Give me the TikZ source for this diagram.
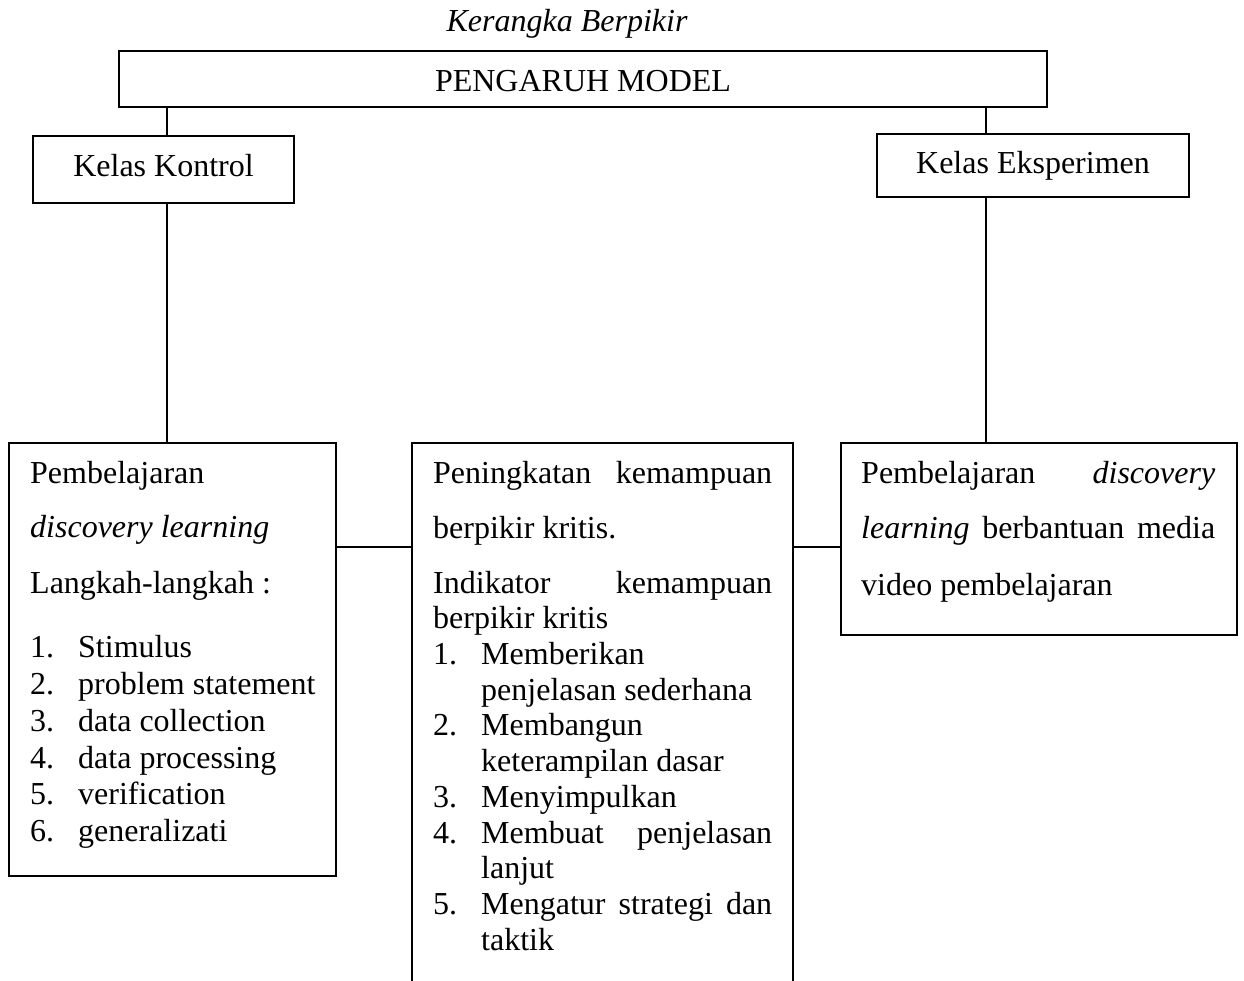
\documentclass[tikz,border=0pt]{standalone}
\usepackage{fontspec}
\setmainfont{Liberation Serif}
\begin{document}
\begin{tikzpicture}[x=1pt,y=-1pt,
  box/.style={draw=black, line width=1.4pt, rectangle, inner sep=0pt},
  conn/.style={draw=black, line width=1.4pt},
  txt/.style={anchor=base west, inner sep=0pt, font=\fontsize{32}{38}\selectfont},
  ctxt/.style={anchor=base, inner sep=0pt, font=\fontsize{32}{38}\selectfont}]
\useasboundingbox[fill=white] (0,0) rectangle (1244,981);

% boxes
\node[box, minimum width=928pt, minimum height=56pt] (pm) at (583,79) {};
\node[box, minimum width=261pt, minimum height=67pt] (kk) at (163.5,169.5) {};
\node[box, minimum width=312pt, minimum height=63pt] (ke) at (1033,165.5) {};
\node[box, minimum width=327pt, minimum height=433pt] (pl) at (172.5,659.5) {};
\node[box, minimum width=381pt, minimum height=577pt] (mid) at (602.5,731.5) {};
\node[box, minimum width=396pt, minimum height=192pt] (pr) at (1039,539) {};

% connector guides
\coordinate (lc) at (167,0);
\coordinate (rc) at (986,0);
\coordinate (hy) at (0,547);

\draw[conn] (pm.south -| lc) -- (kk.north -| lc);
\draw[conn] (kk.south -| lc) -- (pl.north -| lc);
\draw[conn] (pm.south -| rc) -- (ke.north -| rc);
\draw[conn] (ke.south -| rc) -- (pr.north -| rc);
\draw[conn] (pl.east |- hy) -- (mid.west |- hy);
\draw[conn] (mid.east |- hy) -- (pr.west |- hy);

% title and headers
\node[ctxt, font=\fontsize{32}{38}\selectfont\itshape] (title) at (567,32) {Kerangka Berpikir};
\node[ctxt] (pmt) at (583,92) {PENGARUH MODEL};
\node[ctxt] (kkt) at (163.5,177) {Kelas Kontrol};
\node[ctxt] (ket) at (1033,174) {Kelas Eksperimen};

% left box text
\node[txt] (l1) at (30,483) {Pembelajaran};
\node[txt] (l2) at (30,537) {\itshape discovery learning};
\node[txt] (l3) at (30,593) {Langkah-langkah :};
\node[txt] (l4) at (30,657.7) {\hbox to 48pt{1.\hfil}Stimulus};
\node[txt] (l5) at (30,694.5) {\hbox to 48pt{2.\hfil}problem statement};
\node[txt] (l6) at (30,731.3) {\hbox to 48pt{3.\hfil}data collection};
\node[txt] (l7) at (30,768.1) {\hbox to 48pt{4.\hfil}data processing};
\node[txt] (l8) at (30,804.9) {\hbox to 48pt{5.\hfil}verification};
\node[txt] (l9) at (30,841.7) {\hbox to 48pt{6.\hfil}generalizati};

% middle box text
\node[txt] (m1) at (433,483) {\hbox to 339pt{Peningkatan\hfill kemampuan}};
\node[txt] (m2) at (433,538) {berpikir kritis.};
\node[txt] (m3) at (433,593) {\hbox to 339pt{Indikator\hfill kemampuan}};
\node[txt] (m4) at (433,628.7) {berpikir kritis};
\node[txt] (m5) at (433,664.4) {\hbox to 48pt{1.\hfil}Memberikan};
\node[txt] (m6) at (481,700) {penjelasan sederhana};
\node[txt] (m7) at (433,735.8) {\hbox to 48pt{2.\hfil}Membangun};
\node[txt] (m8) at (481,771.5) {keterampilan dasar};
\node[txt] (m9) at (433,807.2) {\hbox to 48pt{3.\hfil}Menyimpulkan};
\node[txt] (m10) at (433,843) {\hbox to 48pt{4.\hfil}\hbox to 291pt{Membuat\hfill penjelasan}};
\node[txt] (m11) at (481,878.6) {lanjut};
\node[txt] (m12) at (433,914.3) {\hbox to 48pt{5.\hfil}\hbox to 291pt{Mengatur\hfill strategi\hfill dan}};
\node[txt] (m13) at (481,950) {taktik};

% right box text
\node[txt] (r1) at (861,483) {\hbox to 354pt{Pembelajaran\hfill\itshape discovery}};
\node[txt] (r2) at (861,538) {\hbox to 354pt{\itshape learning\upshape\hfill berbantuan\hfill media}};
\node[txt] (r3) at (861,595) {video pembelajaran};
\end{tikzpicture}
\end{document}
